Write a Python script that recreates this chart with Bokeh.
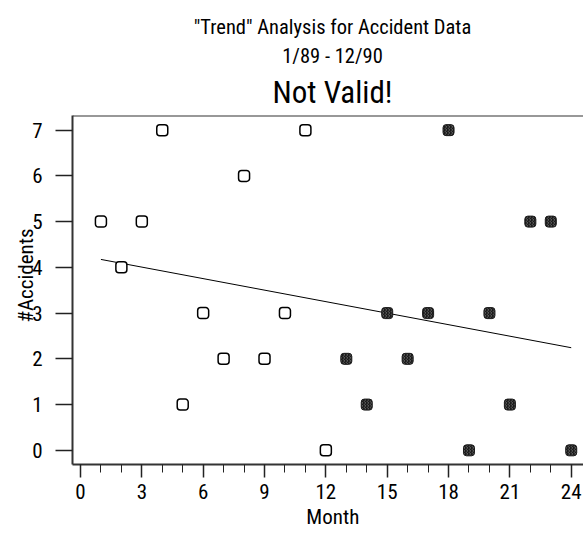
import numpy as np
from bokeh.plotting import figure
from bokeh.layouts import column
from bokeh.models import Label, Span, SingleIntervalTicker, Range1d, ColumnDataSource
from bokeh.embed import file_html
from bokeh.resources import INLINE

# ---- data ----
months_1989 = [1, 2, 3, 4, 5, 6, 7, 8, 9, 10, 11, 12]
accidents_1989 = [5, 4, 5, 7, 1, 3, 2, 6, 2, 3, 7, 0]
months_1990 = [13, 14, 15, 16, 17, 18, 19, 20, 21, 22, 23, 24]
accidents_1990 = [2, 1, 3, 2, 3, 7, 0, 3, 1, 5, 5, 0]

title_lines = ['"Trend" Analysis for Accident Data', "1/89 - 12/90", "Not Valid!"]
x_label = "Month"
y_label = "#Accidents"

FONT = "'Roboto Condensed', 'Liberation Sans', sans-serif"
NBSP = "\u00a0"

# least-squares trend through all points
all_m = np.array(months_1989 + months_1990, dtype=float)
all_a = np.array(accidents_1989 + accidents_1990, dtype=float)
slope, intercept = np.polyfit(all_m, all_a, 1)
trend_x = [all_m.min(), all_m.max()]
trend_y = [intercept + slope * v for v in trend_x]

X_START, X_END = -0.39, 24.6
Y_START, Y_END = -0.31, 7.32

# ---- title block (its own small canvas; its frame is aligned with the chart's) ----
TITLE_H = 110
head = figure(width=583, height=TITLE_H, output_backend="svg", toolbar_location=None,
              x_range=Range1d(0, 1), y_range=Range1d(0, 1),
              x_axis_location=None, y_axis_location=None, min_border=0)
head.outline_line_color = None
head.grid.visible = False
head.background_fill_color = "white"
head.border_fill_color = "white"
title_specs = [(title_lines[0], "20.5px", 26.8),
               (title_lines[1], "20.5px", 55.6),
               (title_lines[2], "31px", 92)]
for txt, size, baseline in title_specs:
    head.add_layout(Label(x=260, y=TITLE_H - baseline, x_units="screen", y_units="screen",
                          text=txt, text_font=FONT, text_font_size=size,
                          text_color="black", text_align="center",
                          text_baseline="alphabetic"))

# ---- chart ----
p = figure(width=583, height=536 - TITLE_H, output_backend="svg", toolbar_location=None,
           title=None,
           x_range=Range1d(X_START, X_END), y_range=Range1d(Y_START, Y_END),
           min_border_left=72, min_border_right=0, min_border_top=5,
           min_border_bottom=72)
p.outline_line_color = None
p.xgrid.visible = False
p.ygrid.visible = False
p.background_fill_color = "white"
p.border_fill_color = "white"

xa = p.xaxis[0]
xa.ticker = SingleIntervalTicker(interval=3, num_minor_ticks=3)
xa.axis_label = NBSP * 2 + x_label
xa.axis_label_text_font = FONT
xa.axis_label_text_font_size = "21px"
xa.axis_label_text_font_style = "normal"
xa.axis_label_text_color = "black"
xa.axis_label_standoff = 3
xa.major_label_text_font = FONT
xa.major_label_text_font_size = "21px"
xa.major_label_text_color = "black"
xa.major_label_standoff = 6
xa.major_tick_in = 0
xa.major_tick_out = 13
xa.minor_tick_in = 0
xa.minor_tick_out = 8
xa.axis_line_color = "#333333"
xa.axis_line_width = 2
xa.major_tick_line_color = "#222222"
xa.major_tick_line_width = 1.5
xa.minor_tick_line_color = "#222222"

ya = p.yaxis[0]
ya.ticker = SingleIntervalTicker(interval=1, num_minor_ticks=0)
ya.axis_label = NBSP * 6 + y_label
ya.axis_label_text_font = FONT
ya.axis_label_text_font_size = "21px"
ya.axis_label_text_font_style = "normal"
ya.axis_label_text_color = "black"
ya.axis_label_standoff = -9
ya.major_label_text_font = FONT
ya.major_label_text_font_size = "21px"
ya.major_label_text_color = "black"
ya.major_label_standoff = 13
ya.major_label_orientation = "horizontal"
ya.major_tick_in = 0
ya.major_tick_out = 17
ya.minor_tick_line_color = None
ya.axis_line_color = "#333333"
ya.axis_line_width = 2
ya.major_tick_line_color = "#222222"
ya.major_tick_line_width = 1.5

# top border line
p.add_layout(Span(location=Y_END, dimension="width", line_color="#333333", line_width=2))

# trend line
p.line(trend_x, trend_y, line_color="black", line_width=1)

# markers
src89 = ColumnDataSource(dict(x=months_1989, y=accidents_1989))
src90 = ColumnDataSource(dict(x=months_1990, y=accidents_1990))
p.rect("x", "y", width=11, height=11, width_units="screen", height_units="screen",
       source=src89, fill_color="white", line_color="black", line_width=1.5,
       border_radius=3)
p.rect("x", "y", width=11, height=11, width_units="screen", height_units="screen",
       source=src90, fill_color="#1a1a1a", line_color="#1a1a1a", line_width=1,
       border_radius=3, hatch_pattern="vertical_wave", hatch_color="#777777",
       hatch_scale=3, hatch_weight=0.8)

layout = column(head, p, spacing=0)
open("out.html", "w").write(file_html(layout, INLINE))
